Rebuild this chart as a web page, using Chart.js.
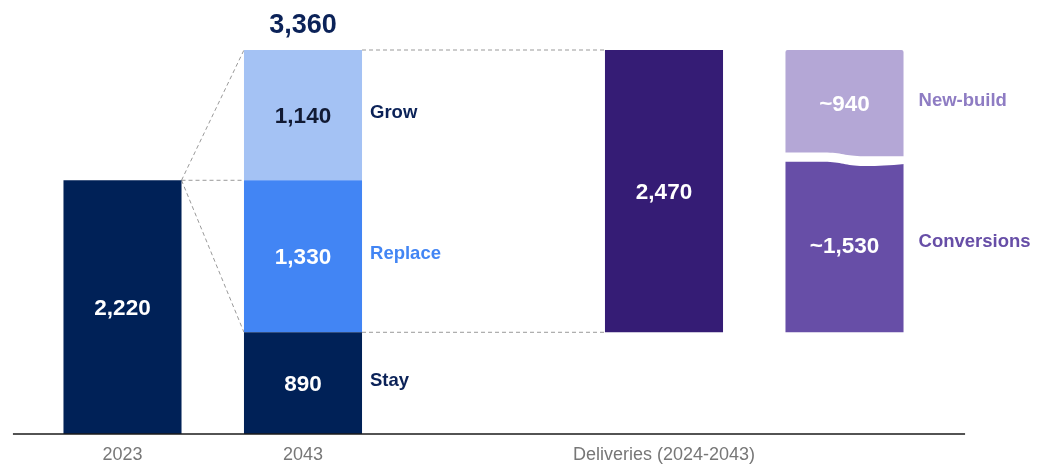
<!DOCTYPE html>
<html>
<head>
<meta charset="utf-8">
<script src="https://cdn.jsdelivr.net/npm/chart.js@4.4.1/dist/chart.umd.min.js"></script>
<style>
  html, body { margin: 0; padding: 0; background: #fff; }
  #wrap { width: 1046px; height: 466px; position: relative; }
</style>
</head>
<body>
<div id="wrap"><canvas id="housing"></canvas></div>
<script>
// x categories (the blank ones keep the gaps between groups)
var categories = ['2023', '2043', '', 'Deliveries (2024-2043)', ''];

var stock2023 = [2220];
var stock2043Labels = ['Stay', 'Replace', 'Grow'];
var stock2043Values = [890, 1330, 1140];
var deliveryTotal = [2470];
var deliveryLabels = ['Conversions', 'New-build'];
var deliveryValues = [1530, 940];

var FONT = "'Liberation Sans', Arial, sans-serif";
var NAVY = '#002157';

// put a floating [from, to] range at one category, nulls elsewhere
function onlyAt(index, from, to) {
    var d = categories.map(function() { return null; });
    d[index] = [from, to];
    return d;
}

var datasets = [];
datasets.push({
    data: onlyAt(0, 0, stock2023[0]),
    backgroundColor: NAVY,
    valueColor: '#ffffff'
});

var stock2043Colors = [NAVY, '#4285f4', '#a4c2f4'];
var stock2043ValueColors = ['#ffffff', '#ffffff', '#111a33'];
var stock2043SideColors = ['#0b2258', '#4285f4', '#0b2258'];
var run = 0;
for (var i = 0; i < stock2043Values.length; i++) {
    datasets.push({
        data: onlyAt(1, run, run + stock2043Values[i]),
        backgroundColor: stock2043Colors[i],
        valueColor: stock2043ValueColors[i],
        sideLabel: stock2043Labels[i],
        sideColor: stock2043SideColors[i],
        sideGap: 8
    });
    run += stock2043Values[i];
}
var total2043 = run;
var stayValue = stock2043Values[0];

datasets.push({
    data: onlyAt(3, stayValue, stayValue + deliveryTotal[0]),
    backgroundColor: '#351c75',
    valueColor: '#ffffff'
});

var deliveryColors = ['#674ea7', '#b4a7d6'];
var deliverySideColors = ['#674ea7', '#8e7cc3'];
run = stayValue;
for (var j = 0; j < deliveryValues.length; j++) {
    datasets.push({
        data: onlyAt(4, run, run + deliveryValues[j]),
        backgroundColor: deliveryColors[j],
        borderRadius: j === deliveryValues.length - 1 ? { topLeft: 2, topRight: 2 } : 0,
        borderSkipped: false,
        valueColor: '#ffffff',
        approx: true,
        sideLabel: deliveryLabels[j],
        sideColor: deliverySideColors[j],
        sideGap: 15
    });
    run += deliveryValues[j];
}

function fmt(v) {
    return v.toLocaleString('en-US');
}

function firstBar(chart, dsIndex) {
    var meta = chart.getDatasetMeta(dsIndex);
    var idx = chart.data.datasets[dsIndex].data.findIndex(function(d) { return d !== null; });
    return meta.data[idx];
}

function edges(bar) {
    var p = bar.getProps(['x', 'y', 'base', 'width'], true);
    return {
        left: p.x - p.width / 2, right: p.x + p.width / 2,
        top: Math.min(p.y, p.base), bottom: Math.max(p.y, p.base),
        x: p.x, width: p.width
    };
}

// dashed guide lines joining the stacks
var connectors = {
    id: 'connectors',
    beforeDatasetsDraw: function(chart) {
        var ctx = chart.ctx;
        var a = edges(firstBar(chart, 0));
        var stay = edges(firstBar(chart, 1));
        var replace = edges(firstBar(chart, 2));
        var grow = edges(firstBar(chart, 3));
        var deliv = edges(firstBar(chart, 4));
        ctx.save();
        ctx.strokeStyle = '#999999';
        ctx.lineWidth = 1;
        ctx.setLineDash([4, 3]);
        var segs = [
            [a.right, a.top, replace.left, a.top],
            [a.right, a.top, grow.left, grow.top],
            [a.right, a.top, replace.left, replace.bottom],
            [grow.right, grow.top, deliv.left, deliv.top],
            [stay.right, stay.top, deliv.left, deliv.bottom]
        ];
        segs.forEach(function(s) {
            ctx.beginPath();
            ctx.moveTo(s[0], s[1]);
            ctx.lineTo(s[2], s[3]);
            ctx.stroke();
        });
        ctx.restore();
    }
};

var annotations = {
    id: 'annotations',
    afterDatasetsDraw: function(chart) {
        var ctx = chart.ctx;
        var area = chart.chartArea;
        var xs = chart.scales.x;
        var catW = xs.getPixelForValue(1) - xs.getPixelForValue(0);

        // white wavy break between the two delivery parts
        var nb = edges(firstBar(chart, datasets.length - 1));
        var L = nb.left - 1, R = nb.right + 1, w = R - L, y0 = nb.bottom;
        ctx.save();
        ctx.fillStyle = '#ffffff';
        ctx.beginPath();
        ctx.moveTo(L, y0 - 5);
        ctx.lineTo(L + 0.33 * w, y0 - 5);
        ctx.bezierCurveTo(L + 0.48 * w, y0 - 5, L + 0.5 * w, y0 - 1.5, L + 0.66 * w, y0 - 1.2);
        ctx.lineTo(R, y0 - 1.2);
        ctx.lineTo(R, y0 + 6.5);
        ctx.quadraticCurveTo(L + 0.8 * w, y0 + 8.8, L + 0.66 * w, y0 + 8.6);
        ctx.bezierCurveTo(L + 0.5 * w, y0 + 8.4, L + 0.48 * w, y0 + 4.3, L + 0.33 * w, y0 + 4.3);
        ctx.lineTo(L, y0 + 4.3);
        ctx.closePath();
        ctx.fill();
        ctx.restore();

        // baseline
        ctx.save();
        ctx.strokeStyle = '#1a1a1a';
        ctx.lineWidth = 1.5;
        ctx.beginPath();
        ctx.moveTo(xs.getPixelForValue(0) - 0.607 * catW, area.bottom);
        ctx.lineTo(xs.getPixelForValue(categories.length - 1) + 0.668 * catW, area.bottom);
        ctx.stroke();
        ctx.restore();

        // value labels inside bars, names beside them
        ctx.save();
        ctx.textBaseline = 'middle';
        chart.data.datasets.forEach(function(ds, di) {
            var meta = chart.getDatasetMeta(di);
            ds.data.forEach(function(v, k) {
                if (v === null) return;
                var e = edges(meta.data[k]);
                var cy = (e.top + e.bottom) / 2 + 1.5;
                ctx.font = 'bold 22.5px ' + FONT;
                ctx.fillStyle = ds.valueColor;
                ctx.textAlign = 'center';
                ctx.fillText((ds.approx ? '~' : '') + fmt(v[1] - v[0]), e.x, cy);
                if (ds.sideLabel) {
                    ctx.font = 'bold 18.5px ' + FONT;
                    ctx.fillStyle = ds.sideColor;
                    ctx.textAlign = 'left';
                    ctx.fillText(ds.sideLabel, e.right + ds.sideGap, cy - 4);
                }
            });
        });

        // total on top of the 2043 stack
        var top = edges(firstBar(chart, stock2043Values.length));
        ctx.font = 'bold 27px ' + FONT;
        ctx.fillStyle = '#0b2258';
        ctx.textAlign = 'center';
        ctx.fillText(fmt(total2043), top.x, top.top - 24);
        ctx.restore();
    }
};

new Chart(document.getElementById('housing'), {
    type: 'bar',
    data: { labels: categories, datasets: datasets },
    plugins: [connectors, annotations],
    options: {
        responsive: true,
        maintainAspectRatio: false,
        devicePixelRatio: 1,
        animation: false,
        layout: { padding: { left: 32.25, right: 111.25, top: 50, bottom: 0 } },
        datasets: { bar: { grouped: false, barPercentage: 1, categoryPercentage: 0.654 } },
        plugins: { legend: { display: false }, tooltip: { enabled: false } },
        scales: {
            x: {
                grid: { display: false, drawTicks: false, tickLength: 0 },
                border: { display: false },
                ticks: {
                    color: '#777777', font: { family: FONT, size: 18 },
                    padding: 10, maxRotation: 0, autoSkip: false
                },
                afterFit: function(scale) { scale.height = 32; }
            },
            y: { display: false, min: 0, max: total2043 }
        }
    }
});
</script>
</body>
</html>
